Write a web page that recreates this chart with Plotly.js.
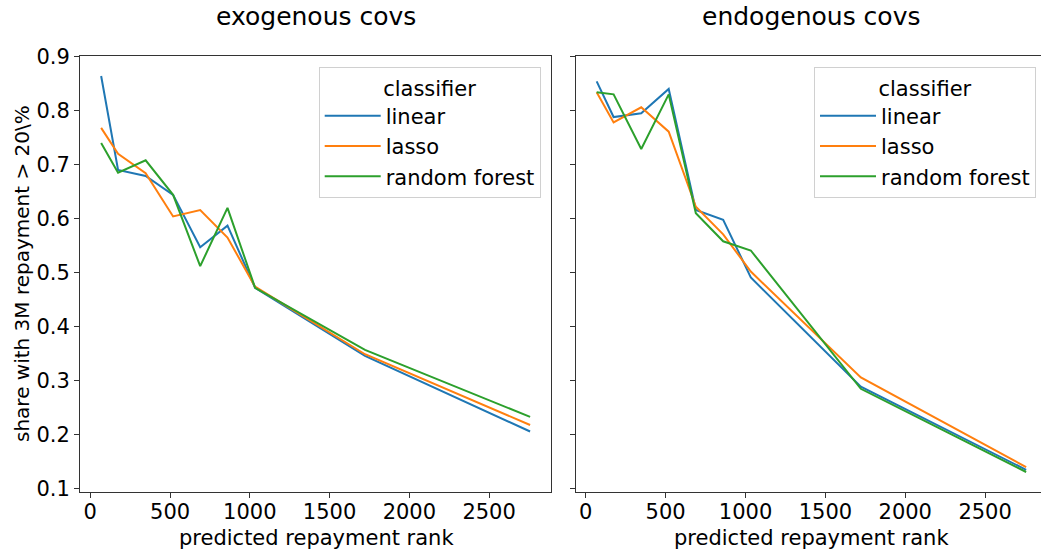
<!DOCTYPE html>
<html>
<head>
<meta charset="utf-8">
<script src="https://cdn.plot.ly/plotly-3.0.1.min.js"></script>
<style>html,body{margin:0;padding:0;background:#fff;}#chart{width:1041px;height:552px;}</style>
</head>
<body>
<div id="chart"></div>
<script>
// predicted repayment rank (bin positions)
const rank = [68, 174, 347, 519, 689, 860, 1033, 1722, 2757];

// exogenous covs
const exoLinear = [0.864, 0.690, 0.679, 0.644, 0.547, 0.587, 0.472, 0.346, 0.206];
const exoLasso  = [0.768, 0.720, 0.684, 0.604, 0.616, 0.565, 0.474, 0.349, 0.218];
const exoRF     = [0.740, 0.685, 0.708, 0.644, 0.512, 0.620, 0.472, 0.357, 0.233];

// endogenous covs
const endoLinear = [0.854, 0.788, 0.795, 0.840, 0.616, 0.598, 0.491, 0.289, 0.135];
const endoLasso  = [0.834, 0.778, 0.806, 0.761, 0.622, 0.571, 0.502, 0.306, 0.140];
const endoRF     = [0.834, 0.830, 0.729, 0.830, 0.610, 0.558, 0.541, 0.285, 0.131];

const classifiers = ["linear", "lasso", "random forest"];
const colors = ["#1f77b4", "#ff7f0e", "#2ca02c"];
const panelTitles = ["exogenous covs", "endogenous covs"];
const xTitle = "predicted repayment rank";
const yTitle = "share with 3M repayment > 20\\%";
const yTicks = [0.1, 0.2, 0.3, 0.4, 0.5, 0.6, 0.7, 0.8, 0.9];
const xTicks = [0, 500, 1000, 1500, 2000, 2500];

const FONT = "DejaVu Sans, sans-serif";
const exo = [exoLinear, exoLasso, exoRF];
const endo = [endoLinear, endoLasso, endoRF];

const traces = [];
classifiers.forEach((c, i) => {
  traces.push({x: rank, y: exo[i], type: "scatter", mode: "lines", name: c,
    line: {color: colors[i], width: 2}, xaxis: "x", yaxis: "y",
    legend: "legend", legendgroup: "a" + i});
});
classifiers.forEach((c, i) => {
  traces.push({x: rank, y: endo[i], type: "scatter", mode: "lines", name: c,
    line: {color: colors[i], width: 2}, xaxis: "x2", yaxis: "y2",
    legend: "legend2", legendgroup: "b" + i});
});

const W = 961, H = 436, L = 80, T = 56;
const px = v => (v - L) / W;
const py = v => (T + H - v) / H;

const axisCommon = {
  showline: true, linecolor: "#333", linewidth: 1,
  ticks: "outside", ticklen: 5, tickwidth: 1, tickcolor: "#333",
  showgrid: false, zeroline: false,
  tickfont: {family: FONT, size: 21, color: "#000"}
};

const legendCommon = {
  bgcolor: "rgba(255,255,255,0.8)", bordercolor: "#d0d0d0", borderwidth: 1,
  font: {family: FONT, size: 21, color: "#000"},
  title: {text: "classifier", side: "top center", font: {family: FONT, size: 21, color: "#000"}},
  xanchor: "right", yanchor: "top", tracegroupgap: 0, itemwidth: 56
};

const layout = {
  width: 1041, height: 552,
  margin: {l: L, r: 0, t: T, b: 552 - T - H, pad: 0},
  paper_bgcolor: "#fff", plot_bgcolor: "#fff",
  font: {family: FONT, size: 21, color: "#000"},
  xaxis: Object.assign({}, axisCommon, {domain: [0, px(551)], range: [-64.6, 2888], tickvals: xTicks, mirror: true, anchor: "y", ticklabelstandoff: -4}),
  xaxis2: Object.assign({}, axisCommon, {domain: [px(575.7), 1], range: [-63.3, 2850], tickvals: xTicks, mirror: true, anchor: "y2", ticklabelstandoff: -4}),
  yaxis: Object.assign({}, axisCommon, {domain: [0, 1], range: [0.094, 0.901], tickvals: yTicks, ticktext: yTicks.map(v => v.toFixed(1)), mirror: true, anchor: "x"}),
  yaxis2: Object.assign({}, axisCommon, {domain: [0, 1], range: [0.094, 0.901], tickvals: yTicks, showticklabels: false, anchor: "x2", matches: "y"}),
  legend: Object.assign({}, legendCommon, {x: px(540.7), y: py(67.3)}),
  legend2: Object.assign({}, legendCommon, {x: px(1036), y: py(67.3)}),
  showlegend: true,
  annotations: [
    {text: panelTitles[0], xref: "paper", yref: "paper", x: px(315.5), y: py(0), xanchor: "center", yanchor: "top", showarrow: false, font: {family: FONT, size: 25, color: "#000"}},
    {text: panelTitles[1], xref: "paper", yref: "paper", x: px(810.8), y: py(0), xanchor: "center", yanchor: "top", showarrow: false, font: {family: FONT, size: 25, color: "#000"}},
    {text: xTitle, xref: "paper", yref: "paper", x: px(316), y: py(538), xanchor: "center", yanchor: "middle", showarrow: false, font: {family: FONT, size: 21, color: "#000"}},
    {text: xTitle, xref: "paper", yref: "paper", x: px(811), y: py(538), xanchor: "center", yanchor: "middle", showarrow: false, font: {family: FONT, size: 21, color: "#000"}},
    {text: yTitle, xref: "paper", yref: "paper", x: px(22), y: py(274), xanchor: "center", yanchor: "middle", textangle: -90, showarrow: false, font: {family: FONT, size: 20, color: "#000"}}
  ]
};

Plotly.newPlot("chart", traces, layout, {displayModeBar: false, staticPlot: true});
</script>
</body>
</html>
